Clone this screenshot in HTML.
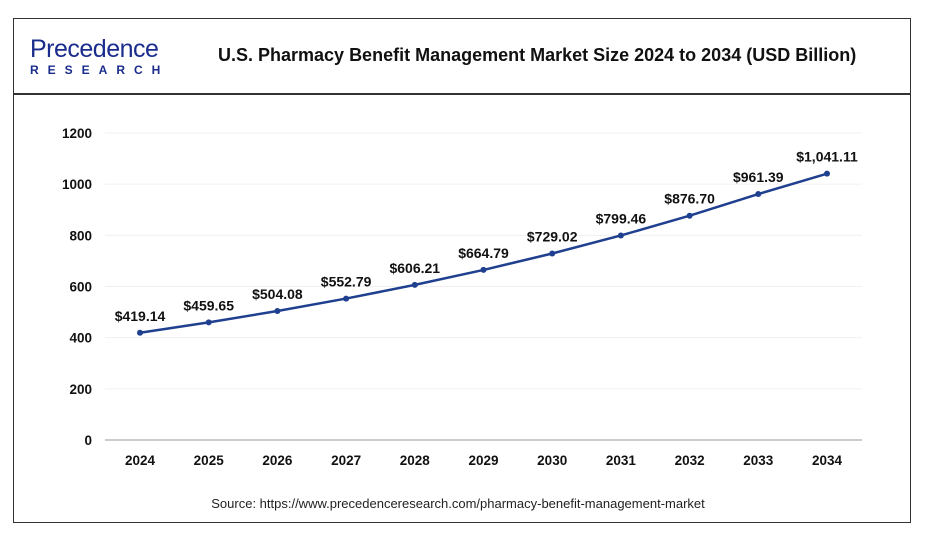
<!DOCTYPE html>
<html><head><meta charset="utf-8"><style>
body{margin:0;width:930px;height:544px;background:#fff;font-family:"Liberation Sans",sans-serif;overflow:hidden}
#frame{position:absolute;left:13px;top:18px;width:898px;height:505px;border:1.5px solid #333;box-sizing:border-box}
#hdr{position:absolute;left:13px;top:93px;width:898px;height:2px;background:#333}
</style></head><body>
<div id="frame"></div>
<div id="hdr"></div>
<div style="position:absolute;left:30px;top:36px;">
<div style="font-size:25px;color:#1a2c8c;letter-spacing:-0.5px;line-height:26px;">Precedence</div>
<div style="font-size:12px;font-weight:bold;color:#1a2c8c;letter-spacing:9px;margin-top:1px;">RESEARCH</div>
</div>
<div style="position:absolute;left:218px;top:45px;white-space:nowrap;font-size:18px;font-weight:bold;color:#111;">U.S. Pharmacy Benefit Management Market Size 2024 to 2034 (USD Billion)</div>
<svg id="chart" width="930" height="544" style="position:absolute;left:0;top:0"></svg>
<div style="position:absolute;left:0;width:916px;text-align:center;top:496px;font-size:13px;color:#222;">Source: https://www.precedenceresearch.com/pharmacy-benefit-management-market</div>
<script>
const years=["2024","2025","2026","2027","2028","2029","2030","2031","2032","2033","2034"];
const values=[419.14,459.65,504.08,552.79,606.21,664.79,729.02,799.46,876.70,961.39,1041.11];
const valueLabels=["$419.14","$459.65","$504.08","$552.79","$606.21","$664.79","$729.02","$799.46","$876.70","$961.39","$1,041.11"];
const yTicks=[0,200,400,600,800,1000,1200];
const NS="http://www.w3.org/2000/svg";
const svg=document.getElementById('chart');
const y=v=>440-v*(307/1200);
const x=i=>140+i*68.7;
function mk(t,a,txt){const e=document.createElementNS(NS,t);for(const k in a)e.setAttribute(k,a[k]);if(txt!==undefined)e.textContent=txt;svg.appendChild(e);return e;}
yTicks.forEach(t=>{
 if(t>0){const g=mk('line',{x1:105,x2:862,y1:y(t),y2:y(t),stroke:'#f0f0f0','stroke-width':1});
 
 }
 const l=mk('text',{x:92,y:y(t)+5,'text-anchor':'end','font-size':13.5,'font-weight':'bold',fill:'#111'},t);
 
 
});
const ax=mk('line',{x1:105,x2:862,y1:440,y2:440,stroke:'#bbb','stroke-width':1.5});


years.forEach((yr,i)=>{
 const l=mk('text',{x:x(i),y:465,'text-anchor':'middle','font-size':13.5,'font-weight':'bold',fill:'#111'},yr);
 
 
});
const line=mk('polyline',{points:values.map((v,i)=>x(i)+','+y(v)).join(' '),fill:'none',stroke:'#1f3f8f','stroke-width':2.5});


values.forEach((v,i)=>{
 const c=mk('circle',{cx:x(i),cy:y(v),r:3,fill:'#1f3f8f'});
 
 
 const t=mk('text',{x:x(i),y:y(v)-12,'text-anchor':'middle','font-size':14,'font-weight':'bold',fill:'#111'},valueLabels[i]);
 
 
});
</script>
</body></html>
